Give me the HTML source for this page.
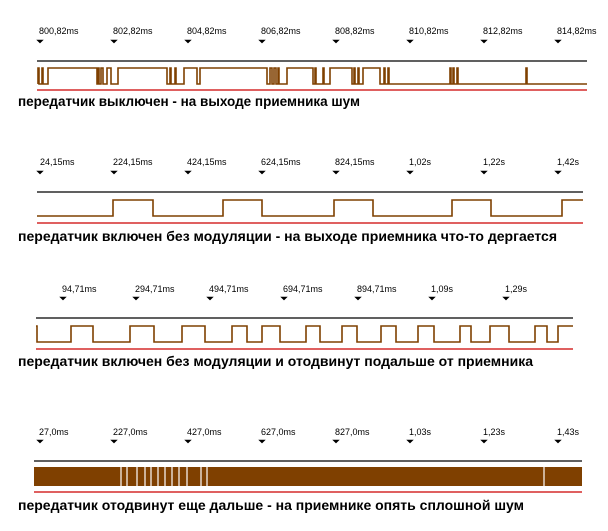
<!DOCTYPE html>
<html><head><meta charset="utf-8"><style>
body{margin:0;background:#fff;width:608px;height:531px;overflow:hidden}
svg{display:block}
.l{font-family:"Liberation Sans",sans-serif;font-size:9px;fill:#000}
.t{font-family:"Liberation Sans",sans-serif;font-size:13.5px;font-weight:bold;fill:#000}
.w{fill:none;stroke:#7f4000;stroke-width:1.6}
</style></head><body>
<svg width="608" height="531" xmlns="http://www.w3.org/2000/svg">
<defs><path id="tri" d="M-3,0 L3,0 L0,3 Z" fill="#000" stroke="#000" stroke-width="0.6"/></defs>
<!-- panel 1 -->
<g>
<text class="l" x="39" y="34">800,82ms</text><text class="l" x="113" y="34">802,82ms</text><text class="l" x="187" y="34">804,82ms</text><text class="l" x="261" y="34">806,82ms</text><text class="l" x="335" y="34">808,82ms</text><text class="l" x="409" y="34">810,82ms</text><text class="l" x="483" y="34">812,82ms</text><text class="l" x="557" y="34">814,82ms</text>
<use href="#tri" x="40" y="40"/><use href="#tri" x="114" y="40"/><use href="#tri" x="188" y="40"/><use href="#tri" x="262" y="40"/><use href="#tri" x="336" y="40"/><use href="#tri" x="410" y="40"/><use href="#tri" x="484" y="40"/><use href="#tri" x="558" y="40"/>
<line x1="37" y1="61" x2="587" y2="61" stroke="#000" stroke-width="1.3"/>
<polyline class="w" points="38,84 38,68 39,68 39,84 42,84 42,68 43,68 43,84 48,84 48,68 97,68 97,84 98,84 98,68 99,68 99,84 101,84 101,68 103,68 103,84 107,84 107,68 111,68 111,84 118,84 118,68 167,68 167,84 170,84 170,68 171,68 171,84 175,84 175,68 176,68 176,84 184,84 184,68 197,68 197,84 200,84 200,68 267,68 267,84 270,84 270,68 272,68 272,84 274,84 274,68 276,68 276,84 278,84 278,68 279,68 279,84 287,84 287,68 313,68 313,84 315,84 315,68 316,68 316,84 323,84 323,68 324,68 324,84 330,84 330,68 352,68 352,84 354,84 354,68 355,68 355,84 358,84 358,68 359,68 359,84 363,84 363,68 380,68 380,84 384,84 384,68 385,68 385,84 388,84 388,68 389,68 389,84 450,84 450,68 451,68 451,84 453,84 453,68 454,68 454,84 457,84 457,68 458,68 458,84 526,84 526,68 527,68 527,84 587,84"/>
<line x1="37" y1="90" x2="587" y2="90" stroke="#c00" stroke-width="1.3"/>
<text class="t" x="18" y="106" textLength="342" lengthAdjust="spacingAndGlyphs">передатчик выключен - на выходе приемника шум</text>
</g>
<!-- panel 2 -->
<g>
<text class="l" x="40" y="165">24,15ms</text><text class="l" x="113" y="165">224,15ms</text><text class="l" x="187" y="165">424,15ms</text><text class="l" x="261" y="165">624,15ms</text><text class="l" x="335" y="165">824,15ms</text><text class="l" x="409" y="165">1,02s</text><text class="l" x="483" y="165">1,22s</text><text class="l" x="557" y="165">1,42s</text>
<use href="#tri" x="40" y="171"/><use href="#tri" x="114" y="171"/><use href="#tri" x="188" y="171"/><use href="#tri" x="262" y="171"/><use href="#tri" x="336" y="171"/><use href="#tri" x="410" y="171"/><use href="#tri" x="484" y="171"/><use href="#tri" x="558" y="171"/>
<line x1="37" y1="192" x2="583" y2="192" stroke="#000" stroke-width="1.3"/>
<polyline class="w" points="37,216 113,216 113,200 153,200 153,216 223,216 223,200 262,200 262,216 334,216 334,200 373,200 373,216 452,216 452,200 491,200 491,216 562,216 562,200 583,200"/>
<line x1="37" y1="223" x2="583" y2="223" stroke="#c00" stroke-width="1.3"/>
<text class="t" x="18" y="241" textLength="539" lengthAdjust="spacingAndGlyphs">передатчик включен без модуляции - на выходе приемника что-то дергается</text>
</g>
<!-- panel 3 -->
<g>
<text class="l" x="62" y="292">94,71ms</text><text class="l" x="135" y="292">294,71ms</text><text class="l" x="209" y="292">494,71ms</text><text class="l" x="283" y="292">694,71ms</text><text class="l" x="357" y="292">894,71ms</text><text class="l" x="431" y="292">1,09s</text><text class="l" x="505" y="292">1,29s</text>
<use href="#tri" x="63" y="297"/><use href="#tri" x="136" y="297"/><use href="#tri" x="210" y="297"/><use href="#tri" x="284" y="297"/><use href="#tri" x="358" y="297"/><use href="#tri" x="432" y="297"/><use href="#tri" x="506" y="297"/>
<line x1="36" y1="318" x2="573" y2="318" stroke="#000" stroke-width="1.3"/>
<polyline class="w" points="36,326 37,326 37,342 71,342 71,326 93,326 93,342 130,342 130,326 154,326 154,342 182,342 182,326 205,326 205,342 232,342 232,326 247,326 247,342 262,342 262,326 280,326 280,342 306,342 306,326 320,326 320,342 342,342 342,326 357,326 357,342 381,342 381,326 396,326 396,342 418,342 418,326 434,326 434,342 460,342 460,326 471,326 471,342 490,342 490,326 509,326 509,342 535,342 535,326 547,326 547,342 558,342 558,326 573,326"/>
<line x1="36" y1="349" x2="573" y2="349" stroke="#c00" stroke-width="1.3"/>
<text class="t" x="18" y="366" textLength="515" lengthAdjust="spacingAndGlyphs">передатчик включен без модуляции и отодвинут подальше от приемника</text>
</g>
<!-- panel 4 -->
<g>
<text class="l" x="39" y="435">27,0ms</text><text class="l" x="113" y="435">227,0ms</text><text class="l" x="187" y="435">427,0ms</text><text class="l" x="261" y="435">627,0ms</text><text class="l" x="335" y="435">827,0ms</text><text class="l" x="409" y="435">1,03s</text><text class="l" x="483" y="435">1,23s</text><text class="l" x="557" y="435">1,43s</text>
<use href="#tri" x="40" y="440"/><use href="#tri" x="114" y="440"/><use href="#tri" x="188" y="440"/><use href="#tri" x="262" y="440"/><use href="#tri" x="336" y="440"/><use href="#tri" x="410" y="440"/><use href="#tri" x="484" y="440"/><use href="#tri" x="558" y="440"/>
<line x1="34" y1="461" x2="582" y2="461" stroke="#000" stroke-width="1.3"/>
<rect x="34" y="467" width="548" height="19" fill="#7f4000"/>
<g stroke="#fff" stroke-width="1.2">
<line x1="121" y1="467" x2="121" y2="486"/><line x1="127" y1="467" x2="127" y2="486"/><line x1="137" y1="467" x2="137" y2="486"/><line x1="145" y1="467" x2="145" y2="486"/><line x1="151" y1="467" x2="151" y2="486"/><line x1="158" y1="467" x2="158" y2="486"/><line x1="165" y1="467" x2="165" y2="486"/><line x1="172" y1="467" x2="172" y2="486"/><line x1="179" y1="467" x2="179" y2="486"/><line x1="187" y1="467" x2="187" y2="486"/><line x1="201" y1="467" x2="201" y2="486"/><line x1="207" y1="467" x2="207" y2="486"/><line x1="544" y1="467" x2="544" y2="486"/>
</g>
<line x1="34" y1="492" x2="582" y2="492" stroke="#c00" stroke-width="1.3"/>
<text class="t" x="18" y="510" textLength="506" lengthAdjust="spacingAndGlyphs">передатчик отодвинут еще дальше - на приемнике опять сплошной шум</text>
</g>
</svg>
</body></html>
